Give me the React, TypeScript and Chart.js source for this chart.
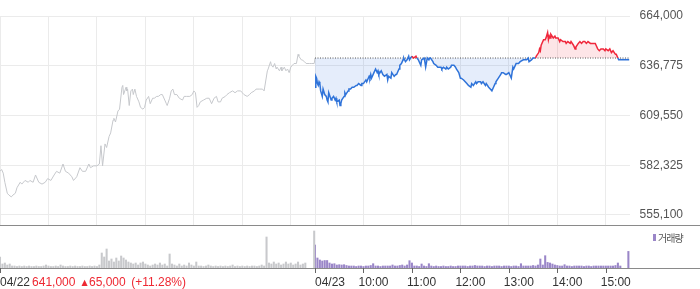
import React, { useEffect, useRef } from 'react';
import { Chart, registerables } from 'chart.js';

Chart.register(...registerables);

// ---- data ----
const PREV_CLOSE = 641000;
const yTicks = [555100, 582325, 609550, 636775, 664000];
const dayLabels = ['04/22', '04/23'];
const hourLabels = ['10:00', '11:00', '12:00', '13:00', '14:00', '15:00'];
const summaryPrice = '641,000';
const summaryArrow = '▲';
const summaryChange = '65,000';
const summaryRate = '(+11.28%)';
const legendLabel = '거래량';

// minutes from 04/22 09:00 (each session 390 minutes), price
const day1Price: [number, number][] = [
  [0,579000],[2,580000],[4,578000],[6,573000],[9,567000],[11,566000],[14,565000],[16,566000],[19,567000],[21,570000],
  [25,573000],[27,572000],[31,574000],[35,573000],[37,574000],[41,573000],[44,577000],[48,573000],[52,572000],[56,573000],
  [59,575000],[63,574000],[67,577000],[70,579000],[74,578000],[78,583000],[81,579000],[85,578000],[89,576000],[91,574000],
  [95,576000],[99,581000],[102,579000],[106,579000],[110,583000],[112,581000],[116,582000],[120,582000],[123,583000],[125,593000],
  [127,582000],[130,594000],[132,592000],[135,598000],[137,600000],[140,607000],[141,608000],[143,606000],[146,612000],[148,613000],
  [151,625000],[152,626000],[153,621000],[156,625000],[157,623000],[158,624000],[160,615000],[162,623000],[164,624000],[165,621000],
  [167,624000],[169,620000],[172,617000],[174,614000],[177,613000],[179,614000],[181,618000],[184,620000],[186,616000],[189,619000],
  [191,619000],[194,620000],[196,620000],[199,621000],[201,621000],[204,618000],[206,616000],[207,615000],[210,619000],[212,623000],
  [214,624000],[216,621000],[219,621000],[222,619000],[226,618000],[228,620000],[231,620000],[235,620000],[238,621000],[240,623000],
  [242,622000],[244,614000],[246,615000],[248,617000],[252,618000],[256,619000],[259,619000],[262,616000],[265,619000],[268,620000],
  [270,617000],[273,617000],[275,619000],[279,620000],[281,621000],[284,622000],[288,623000],[291,622000],[294,623000],[298,623000],
  [300,622000],[302,621000],[306,620000],[309,621000],[311,622000],[315,623000],[317,624000],[321,624000],[325,624000],[327,623000],
  [328,623000],[331,634000],[332,635000],[335,639000],[336,637000],[338,636000],[340,638000],[342,635000],[343,636000],[346,634000],
  [348,636000],[349,634000],[352,636000],[354,634000],[356,635000],[358,633000],[360,636000],[362,637000],[364,638000],[367,638000],
  [369,643000],[370,642000],[373,640000],[374,640000],[377,639000],[379,638000],[383,638000],[386,638000],[389,638000],[390,641000],
];

const day2Price: [number, number][] = [
  [390,625000],[391,631000],[392,630000],[393,627000],[394,626000],[395,628000],[396,627000],[397,623000],[399,620000],[400,624000],
  [402,621000],[404,620000],[405,618000],[406,617000],[407,622000],[410,618000],[411,619000],[413,620000],[415,618000],[416,619000],
  [417,617000],[420,618000],[421,615000],[422,616000],[423,618000],[426,620000],[427,622000],[428,621000],[431,623000],[432,624000],
  [434,624000],[436,625000],[438,625000],[441,626000],[442,626000],[444,627000],[447,626000],[448,627000],[450,627000],[453,629000],
  [454,628000],[457,631000],[458,630000],[459,632000],[460,630000],[463,633000],[465,635000],[467,633000],[468,634000],[469,632000],
  [472,634000],[474,632000],[476,631000],[479,632000],[480,629000],[481,631000],[484,630000],[485,633000],[488,631000],[490,632000],
  [491,632000],[494,635000],[495,637000],[497,638000],[499,640000],[500,641000],[502,639000],[504,640000],[506,642000],[507,640000],
  [510,642000],[512,641000],[515,642000],[516,641000],[518,640000],[519,639000],[521,637000],[522,640000],[525,641000],[526,639000],
  [527,636000],[529,641000],[531,640000],[532,641000],[533,641000],[536,639000],[537,638000],[540,637000],[542,636000],[546,636000],
  [547,635000],[549,636000],[552,635000],[553,636000],[555,635000],[558,636000],[559,637000],[562,637000],[564,636000],[565,635000],
  [568,633000],[570,630000],[571,630000],[574,629000],[576,628000],[578,627000],[580,626000],[583,625000],[584,627000],[586,626000],
  [589,628000],[590,627000],[592,628000],[595,628000],[596,627000],[598,628000],[601,626000],[602,627000],[605,625000],[607,624000],
  [609,623000],[611,625000],[613,627000],[614,628000],[617,630000],[620,632000],[621,633000],[623,633000],[626,632000],[627,632000],
  [630,633000],[632,631000],[633,630000],[635,636000],[636,635000],[638,637000],[639,638000],[642,638000],[644,639000],[645,639000],
  [648,640000],[650,640000],[652,640000],[654,641000],[655,639000],[658,640000],[660,641000],[663,641000],[664,642000],[667,644000],
  [668,646000],[669,645000],[670,648000],[673,651000],[675,651000],[676,652000],[678,655000],[679,651000],[680,653000],[681,652000],
  [682,654000],[685,652000],[687,653000],[688,652000],[691,652000],[693,650000],[694,651000],[697,650000],[700,650000],[701,649000],
  [703,650000],[706,649000],[707,650000],[710,648000],[712,646000],[713,647000],[716,649000],[718,650000],[720,649000],[722,650000],
  [724,650000],[726,649000],[728,650000],[731,649000],[732,649000],[734,649000],[737,649000],[738,648000],[740,646000],[742,645000],
  [744,646000],[747,646000],[749,645000],[750,646000],[753,645000],[755,646000],[757,644000],[759,645000],[762,643000],[763,643000],
  [765,641000],[766,640000],[779,640000],
];

// volume (thousand shares), one bar every 3 minutes from the session open
const day1Volume = [
  11,4,5,3,4,2,2,1.5,2,1.5, 2,1.5,2,1.5,1.5,2,1.5,1.5,2,3, 2,1.5,1.5,2,1.5,3,2,1.5,1.5,2,
  1.5,2,1.5,1.5,2,1.5,1.5,2,1.5,2, 1.5,3,15,11,19,7,9,6,10,7, 12,10,8,6,5,4,5,3,5,6,
  4,3,2,3,4,3,5,3,4,2, 14,4,3,2,4,2,3,2,5,3, 2,6,2,2,1.5,2,3,2,1.5,2,
  1.5,2,1.5,2,1.5,2,3,1.5,2,1.5, 2,1.5,2,1.5,2,2,1.5,2,3,2, 31,5,4,6,4,5,3,4,6,4,
  5,3,4,6,3,4,5,
];
const day1CloseMinute = 389;
const day1CloseVolume = 37;

const day2Volume = [
  23,10,8,7,7.5,7.5,5,4,4.3,3, 3.3,3,3.3,2.5,2,2,2,1.5,2,2, 1.5,2,2,2.5,4.3,2,2,1.5,2,2,
  2,2,3,2,2,2.5,3,2,3,7.3, 5,2,2,1.5,4,2,1.5,4.3,2,1.5, 2,1.5,1.5,2,1.5,1.5,2,1.5,1.5,2,
  2,2,2,1.5,2,2,2.5,2,2,2, 1.5,2,2,1.5,2,2,2,1.5,2,2, 2,1.5,2,2,1.5,4.3,2,2,2,2,
  2.5,2,3,9,3,12.3,5.6,5,4,3, 2.5,2,2,3.3,2,2,1.5,2,2,2, 2,1.5,2,2,1.5,2,2,2,2,2,
  2,2,2,2,2.5,5,2,
];
const day2CloseMinute = 778;
const day2CloseVolume = 16.6;

// ---- styles ----
const FONT = "'Liberation Sans', Arial, sans-serif";
const BLUE = '#2f73d9';
const RED = '#f0283c';
const GRAY_LINE = '#c6c8cc';
const GRID = '#ebebeb';
const AXIS = '#8a8a8a';
const VOL_GRAY = '#c8c9cc';
const VOL_PURPLE = '#9a86c8';
const SUMMARY_RED = '#ee2832';

const SESSION = 390;
const gridMinutes = [0, 60, 120, 180, 240, 300, 360, 390, 450, 510, 570, 630, 690, 750];
const tickMinutes = [0, 390, 450, 510, 570, 630, 690, 750];

export default function App() {
  const priceRef = useRef<HTMLCanvasElement>(null);
  const volRef = useRef<HTMLCanvasElement>(null);

  useEffect(() => {
    const priceLinePlugin = {
      id: 'priceAxisLine',
      afterDraw(chart: any) {
        const ctx = chart.ctx;
        const a = chart.chartArea;
        ctx.save();
        ctx.strokeStyle = AXIS;
        ctx.lineWidth = 1;
        ctx.beginPath();
        ctx.moveTo(0, a.bottom + 0.5);
        ctx.lineTo(chart.width, a.bottom + 0.5);
        ctx.stroke();
        ctx.restore();
      },
    };

    const priceChart = new Chart(priceRef.current as HTMLCanvasElement, {
      type: 'line',
      data: {
        datasets: [
          {
            data: day2Price.map(([x, y]) => ({ x, y })),
            borderColor: BLUE,
            borderWidth: 1.5,
            pointRadius: 0,
            tension: 0,
            order: 0,
            segment: {
              borderColor: (c: any) =>
                (c.p0.parsed.y + c.p1.parsed.y) / 2 > PREV_CLOSE ? RED : BLUE,
            },
            fill: {
              target: { value: PREV_CLOSE },
              above: 'rgba(240,40,60,0.12)',
              below: 'rgba(40,110,220,0.12)',
            },
          } as any,
          {
            data: [
              { x: SESSION, y: PREV_CLOSE },
              { x: 779, y: PREV_CLOSE },
            ],
            borderColor: '#555',
            borderWidth: 1,
            borderDash: [1, 1.5],
            pointRadius: 0,
            fill: false,
            order: 1,
          },
          {
            data: day1Price.map(([x, y]) => ({ x, y })),
            borderColor: GRAY_LINE,
            borderWidth: 1,
            pointRadius: 0,
            tension: 0,
            fill: false,
            order: 2,
          },
        ],
      },
      options: {
        animation: false,
        responsive: false,
        events: [],
        layout: { autoPadding: false, padding: { top: 16, bottom: 1, left: 0, right: 17 } },
        plugins: {
          legend: { display: false },
          tooltip: { enabled: false },
          filler: { drawTime: 'beforeDatasetsDraw' },
        } as any,
        scales: {
          x: {
            type: 'linear',
            min: 0,
            max: 780,
            afterBuildTicks: (s: any) => {
              s.ticks = gridMinutes.map((v) => ({ value: v }));
            },
            afterFit: (s: any) => {
              s.height = 0;
            },
            ticks: { display: false },
            grid: { color: GRID, drawTicks: false },
            border: { display: false },
          },
          y: {
            position: 'right',
            min: 549620,
            max: 664000,
            afterBuildTicks: (s: any) => {
              s.ticks = yTicks.map((v) => ({ value: v }));
            },
            afterFit: (s: any) => {
              s.width = 53;
            },
            ticks: {
              color: '#555',
              padding: 0,
              crossAlign: 'far',
              font: { family: FONT, size: 12, lineHeight: 0.1 },
              callback: (v: any) => String(v).replace(/\B(?=(\d{3})+(?!\d))/g, ','),
            },
            grid: { color: GRID, drawTicks: false },
            border: { display: false },
          },
        },
      } as any,
      plugins: [priceLinePlugin],
    });

    const volDecorPlugin = {
      id: 'volDecor',
      afterDraw(chart: any) {
        const ctx = chart.ctx;
        const a = chart.chartArea;
        const xs = chart.scales.x;
        ctx.save();
        // baseline
        ctx.strokeStyle = AXIS;
        ctx.lineWidth = 1;
        ctx.beginPath();
        ctx.moveTo(0, a.bottom + 0.5);
        ctx.lineTo(chart.width, a.bottom + 0.5);
        ctx.stroke();
        // tick marks
        ctx.strokeStyle = '#666';
        ctx.beginPath();
        tickMinutes.forEach((m) => {
          const px = Math.round(xs.getPixelForValue(m)) + 0.5;
          ctx.moveTo(px, a.bottom);
          ctx.lineTo(px, a.bottom + 5);
        });
        ctx.stroke();
        // labels
        const ly = 57;
        ctx.textBaseline = 'middle';
        ctx.textAlign = 'left';
        ctx.font = `12px ${FONT}`;
        ctx.fillStyle = '#333';
        ctx.fillText(dayLabels[0], xs.getPixelForValue(0), ly);
        ctx.fillText(dayLabels[1], xs.getPixelForValue(SESSION), ly);
        hourLabels.forEach((t, i) => {
          ctx.fillText(t, xs.getPixelForValue(SESSION + 60 * (i + 1)) - 5, ly);
        });
        // summary (red)
        let x = xs.getPixelForValue(0) + ctx.measureText(dayLabels[0]).width + 2;
        ctx.fillStyle = SUMMARY_RED;
        ctx.fillText(summaryPrice, x, ly);
        x += ctx.measureText(summaryPrice).width + 6;
        ctx.font = `8px 'DejaVu Sans', sans-serif`;
        ctx.fillText(summaryArrow, x, ly - 0.5);
        x += 7.6;
        ctx.font = `12px ${FONT}`;
        ctx.fillText(summaryChange, x, ly);
        x += ctx.measureText(summaryChange).width + 5.5;
        ctx.fillText(summaryRate, x, ly);
        // legend
        ctx.fillStyle = VOL_PURPLE;
        ctx.fillRect(653, 8, 3, 7);
        ctx.fillStyle = '#555';
        ctx.font = `10px 'Noto Sans CJK KR', sans-serif`;
        try {
          (ctx as any).letterSpacing = '-1px';
        } catch (e) {}
        ctx.fillText(legendLabel, 658, 12);
        ctx.restore();
      },
    };

    const day1VolPoints = day1Volume.map((v, i) => ({ x: i * 3, y: v }));
    day1VolPoints.push({ x: day1CloseMinute, y: day1CloseVolume });
    const day2VolPoints = day2Volume.map((v, i) => ({ x: SESSION + i * 3, y: v }));
    day2VolPoints.push({ x: day2CloseMinute, y: day2CloseVolume });

    const volChart = new Chart(volRef.current as HTMLCanvasElement, {
      type: 'bar',
      data: {
        datasets: [
          { data: day1VolPoints, backgroundColor: VOL_GRAY, barThickness: 1.4, grouped: false } as any,
          { data: day2VolPoints, backgroundColor: VOL_PURPLE, barThickness: 1.4, grouped: false } as any,
        ],
      },
      options: {
        animation: false,
        responsive: false,
        events: [],
        layout: { autoPadding: false, padding: { top: 3, bottom: 21, left: 0, right: 70 } },
        plugins: { legend: { display: false }, tooltip: { enabled: false } },
        scales: {
          x: { type: 'linear', min: 0, max: 780, offset: false, display: false },
          y: { min: 0, max: 39, display: false },
        },
      } as any,
      plugins: [volDecorPlugin],
    });

    return () => {
      priceChart.destroy();
      volChart.destroy();
    };
  }, []);

  return (
    <div style={{ position: 'fixed', left: 0, top: 0, width: 700, height: 289, background: '#fff' }}>
      <canvas
        ref={priceRef}
        width={700}
        height={226}
        style={{ position: 'absolute', left: 0, top: 0, width: 700, height: 226 }}
      />
      <canvas
        ref={volRef}
        width={700}
        height={63}
        style={{ position: 'absolute', left: 0, top: 226, width: 700, height: 63 }}
      />
    </div>
  );
}
